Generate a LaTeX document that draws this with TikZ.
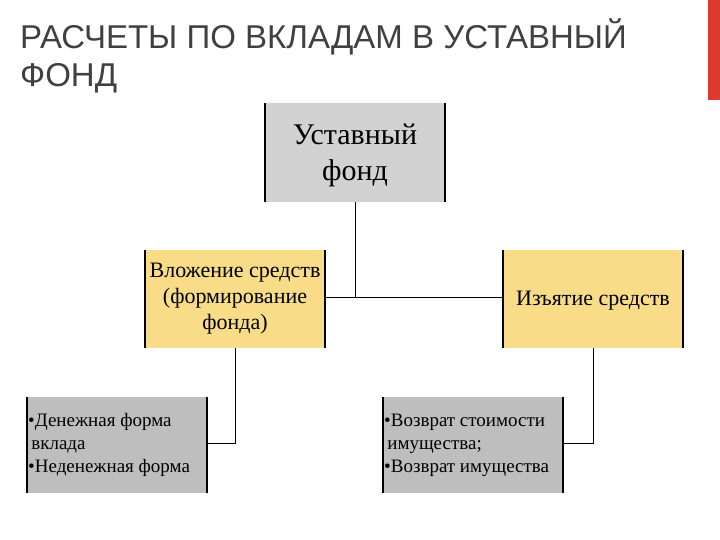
\documentclass[tikz,border=0pt]{standalone}
\usepackage{fontspec}
\setmainfont{Liberation Serif}
\newfontfamily\titlefont{Liberation Sans}
\definecolor{gbox}{HTML}{D2D2D2}
\definecolor{gbox2}{HTML}{BEBEBE}
\definecolor{ybox}{HTML}{F8DC88}
\definecolor{redbar}{HTML}{DD3B32}
\definecolor{titlec}{HTML}{404040}
\begin{document}
\begin{tikzpicture}[x=1pt,y=-1pt,
  boxf/.style={line width=1.5pt},
  conn/.style={line width=0.8pt},
  lbl/.style={align=center,inner sep=0pt}]
\useasboundingbox (0,0) rectangle (720,540);
\fill[redbar] (708,0) rectangle (720,100);
\node[anchor=north west,align=left,text=titlec,inner sep=0pt,font=\titlefont\fontsize{33}{38}\selectfont] (title) at (20,18) {РАСЧЕТЫ ПО ВКЛАДАМ В УСТАВНЫЙ\\ФОНД};
% boxes
\fill[gbox] (265,103) rectangle (445,202);
\draw[boxf] (265,103) -- (265,202) (445,103) -- (445,202);
\node[lbl,font=\fontsize{30}{36}\selectfont] (uf) at (355,155) {Уставный\\фонд};
\fill[ybox] (145,250) rectangle (325,348);
\draw[boxf] (145,250) -- (145,348) (325,250) -- (325,348);
\node[lbl,font=\fontsize{22}{26}\selectfont] (vl) at (235,299) {Вложение средств\\(формирование\\фонда)};
\fill[ybox] (503,250) rectangle (683,348);
\draw[boxf] (503,250) -- (503,348) (683,250) -- (683,348);
\node[lbl,font=\fontsize{22}{26}\selectfont] (iz) at (593,301) {Изъятие средств};
\fill[gbox2] (27,397) rectangle (207,493);
\draw[boxf] (27,397) -- (27,493) (207,397) -- (207,493);
\node[anchor=west,align=left,inner sep=0pt,font=\fontsize{19}{23}\selectfont] (dn) at (28,445) {•Денежная форма\\\,вклада\\•Неденежная форма};
\fill[gbox2] (383,397) rectangle (563,493);
\draw[boxf] (383,397) -- (383,493) (563,397) -- (563,493);
\node[anchor=west,align=left,inner sep=0pt,font=\fontsize{19}{23}\selectfont] (vz) at (384,445) {•Возврат стоимости\\\,имущества;\\•Возврат имущества};
% connectors
\coordinate (j) at (355,297);
\draw[conn] (355,202) -- (j);
\draw[conn] (325,297) -- (503,297);
\draw[conn] (235,348) |- (207,443);
\draw[conn] (593,348) |- (563,443);
\end{tikzpicture}
\end{document}
